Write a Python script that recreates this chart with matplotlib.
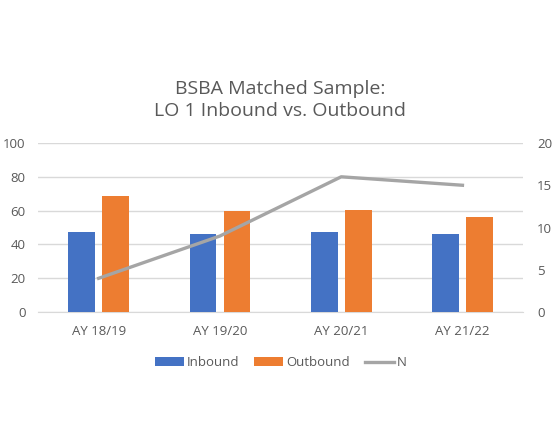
import matplotlib.pyplot as plt
import numpy as np

years = ['AY 18/19', 'AY 19/20', 'AY 20/21', 'AY 21/22']
inbound = [47.5, 46, 47.5, 46]
outbound = [68.5, 60, 60.5, 56.5]
n_count = [4, 9, 16, 15]

plt.rcParams['font.family'] = ['Open Sans', 'DejaVu Sans']
txt = '#595959'

fig = plt.figure(figsize=(5.55, 4.44), dpi=100)
ax = fig.add_axes([0.0685, 0.297, 0.874, 0.381])
ax2 = ax.twinx()

x = np.arange(len(years))
w = 0.22
ax.bar(x - 0.14, inbound, w, color='#4472C4', label='Inbound', zorder=3)
ax.bar(x + 0.14, outbound, w, color='#ED7D31', label='Outbound', zorder=3)
ax2.plot(x, n_count, color='#A5A5A5', lw=2.4, label='N', zorder=4)

ax.set_xlim(-0.5, 3.5)
ax.set_ylim(0, 100)
ax.set_yticks(range(0, 101, 20))
ax2.set_ylim(0, 20)
ax2.set_yticks(range(0, 21, 5))
ax.set_xticks(x)
ax.set_xticklabels(years)
ax.grid(axis='y', color='#D9D9D9', lw=1, zorder=0)

for a in (ax, ax2):
    for s in a.spines.values():
        s.set_visible(False)
    a.tick_params(length=0, colors=txt, labelsize=9.5)
ax.spines['bottom'].set_visible(True)
ax.spines['bottom'].set_color('#D9D9D9')
ax.tick_params(axis='y', pad=9)
ax2.tick_params(axis='y', pad=10)
ax.tick_params(axis='x', pad=9)

fig.text(0.505, 0.775, 'BSBA Matched Sample:\nLO 1 Inbound vs. Outbound',
         ha='center', va='center', fontsize=14, color=txt, linespacing=1.3)

h1, l1 = ax.get_legend_handles_labels()
h2, l2 = ax2.get_legend_handles_labels()
fig.legend(h1 + h2, l1 + l2, loc='center', bbox_to_anchor=(0.506, 0.183), ncol=3,
           frameon=False, fontsize=9.5, labelcolor=txt, handlelength=2.2,
           columnspacing=1.1, handletextpad=0.25)

fig.savefig('out.png', dpi=100)
